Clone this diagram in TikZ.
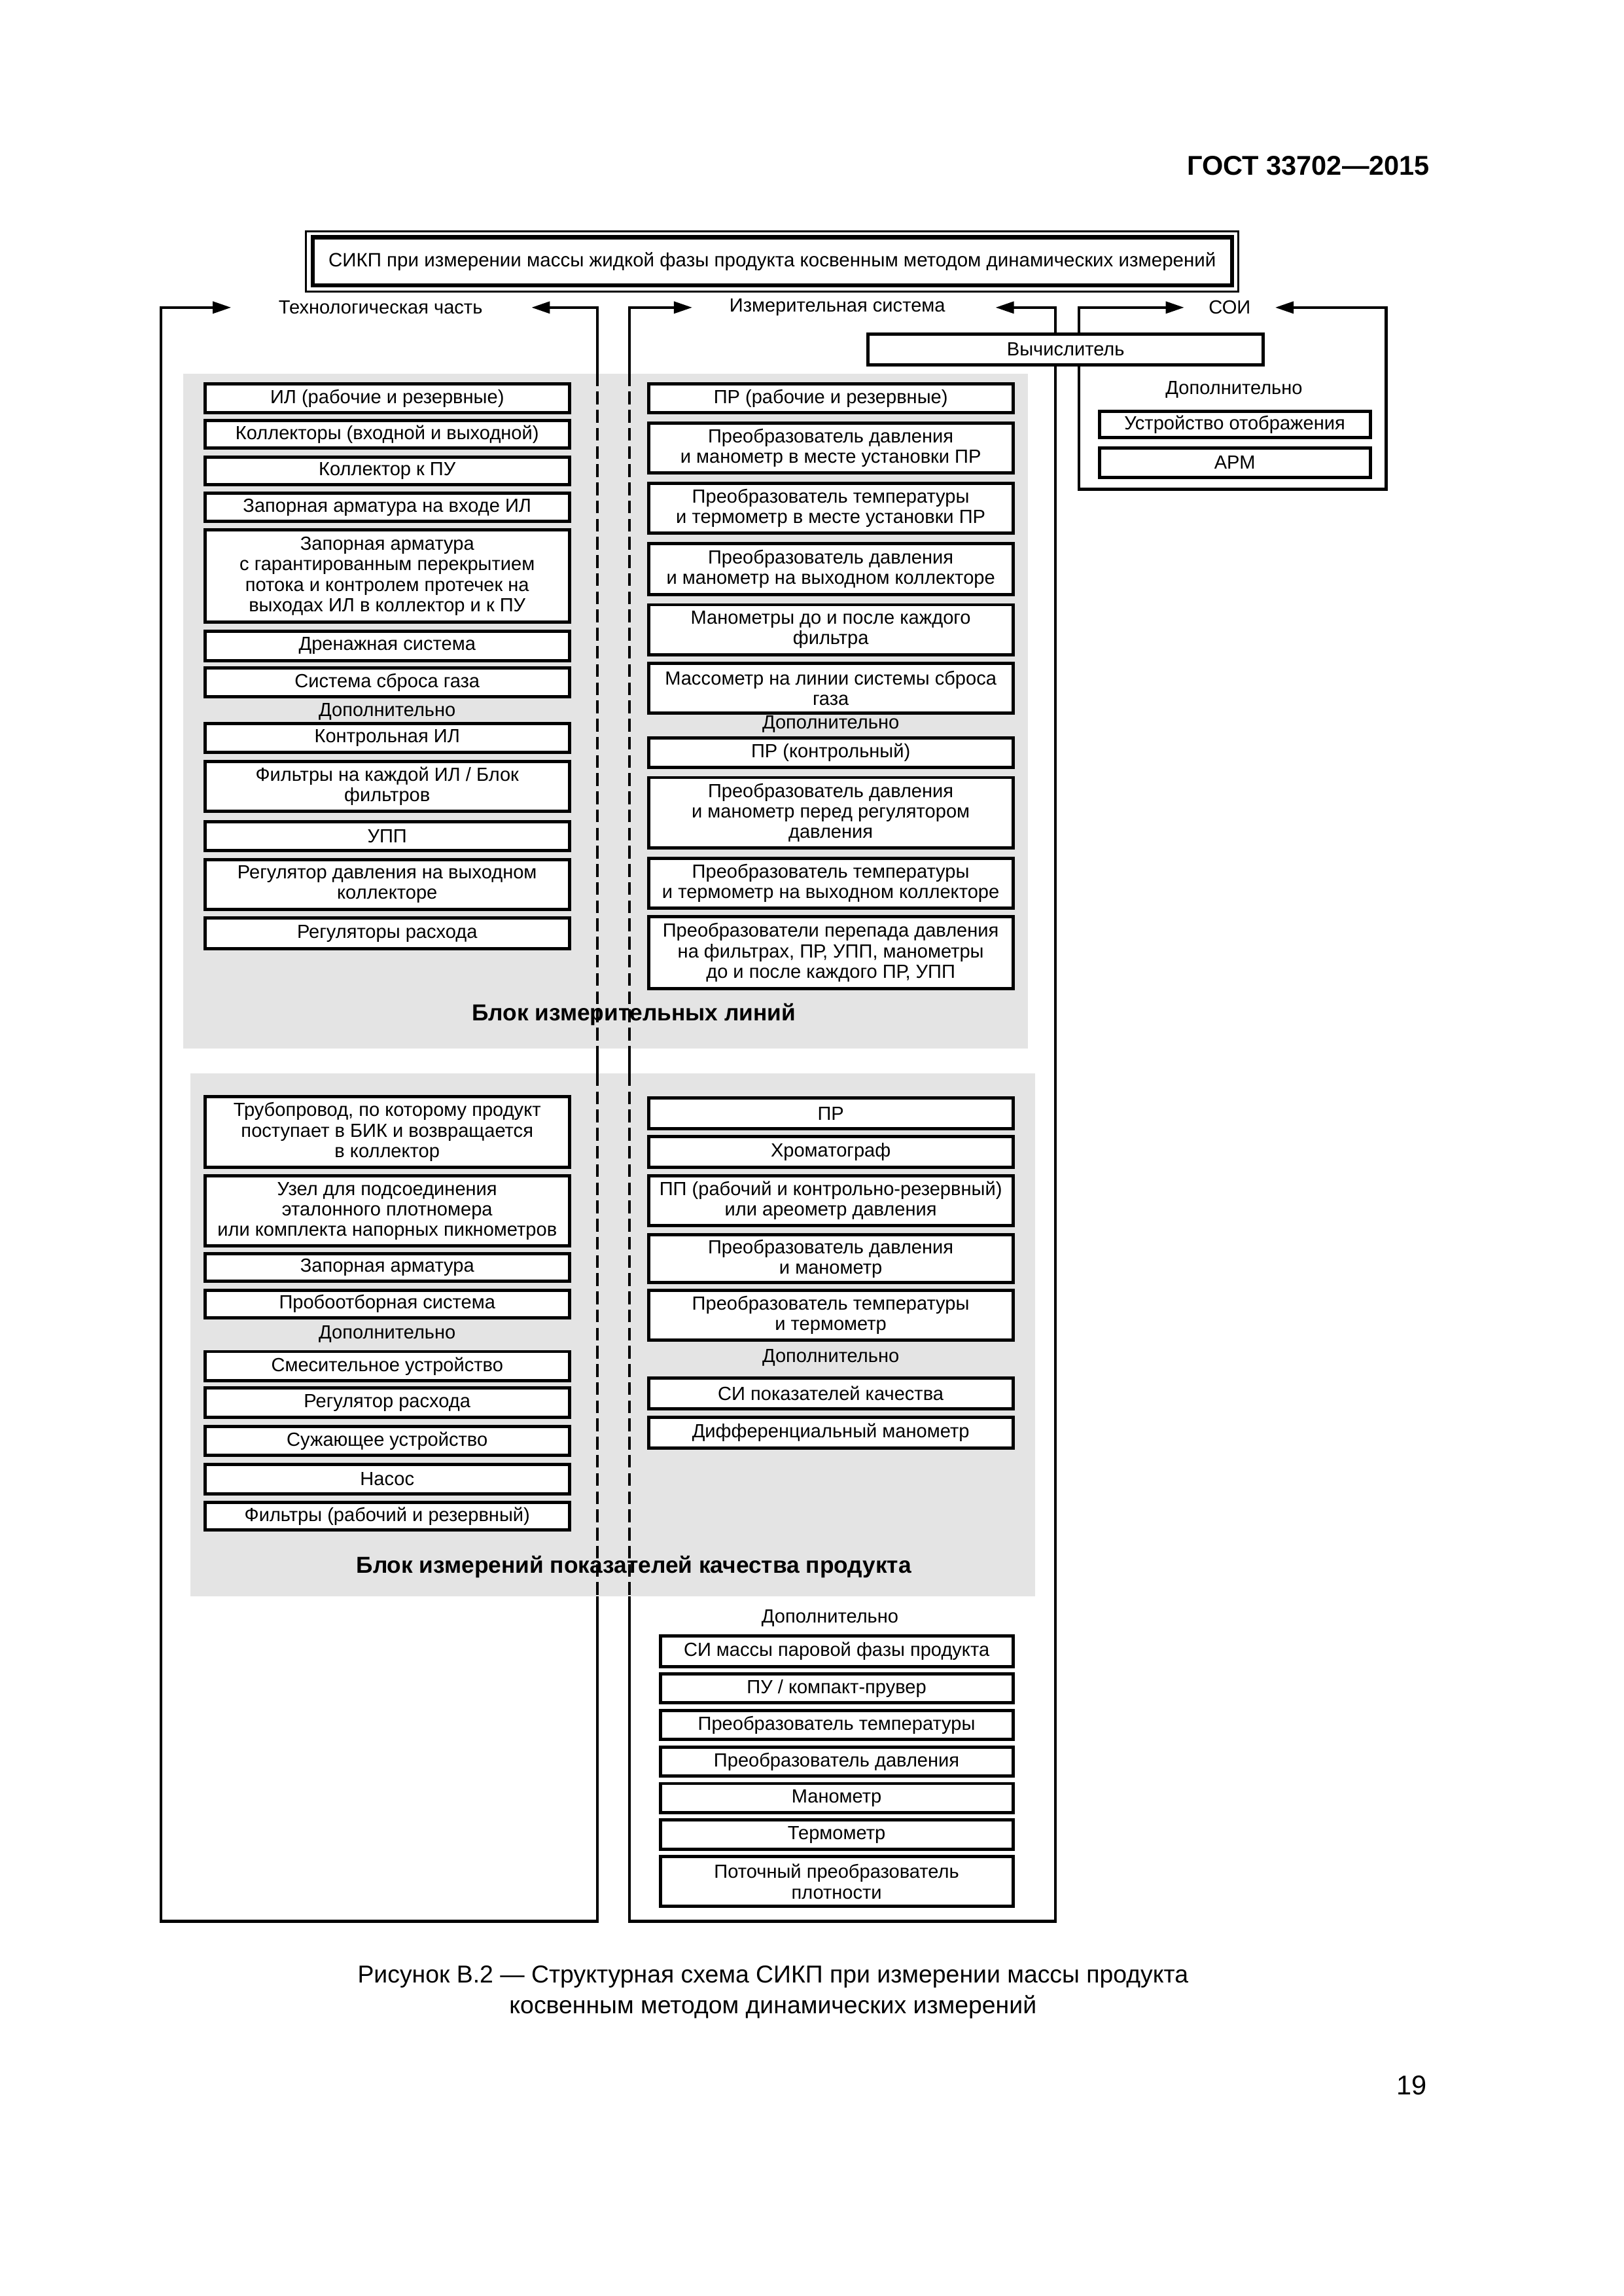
\documentclass[tikz,border=0pt]{standalone}
\usepackage{fontspec}
\setmainfont{Liberation Sans}
\usetikzlibrary{arrows.meta}
\definecolor{blockgray}{RGB}{228,228,228}
\newcommand\diabox[6]{\node[box, minimum width={(#4-#2)*0.18936mm}, minimum height={(#5-#3)*0.18936mm}] (#1) at ({(#2+#4)/2},{(#3+#5)/2}) {#6};}
\begin{document}
\begin{tikzpicture}[x=0.18936mm,y=-0.18936mm,
  box/.style={draw, line width=1.2pt, fill=white, align=center, inner sep=0pt, font=\fontsize{7}{7.5}\selectfont},
  loopline/.style={line width=1.1pt},
  dbl/.style={loopline, {Triangle[length=2.4mm,width=1.5mm]}-{Triangle[length=2.4mm,width=1.5mm]}},
  lbl/.style={font=\fontsize{7}{7.5}\selectfont, inner sep=0pt, align=center},
  blk/.style={fill=blockgray, draw=none},
  dsh/.style={line width=1.1pt, dash pattern=on 1.65mm off 0.7mm},
  blabel/.style={font=\bfseries\fontsize{8.5}{10}\selectfont, inner sep=0pt}]
\useasboundingbox (0,0) rectangle (1109,1568);

% header
\node[font=\bfseries\fontsize{10}{12}\selectfont, anchor=east, inner sep=0pt] (hdr) at (977,113) {ГОСТ 33702—2015};

% title double box
\node[draw, line width=0.8pt, minimum width={(846-209)*0.18936mm}, minimum height={(199-158)*0.18936mm}] (titleout) at (527.5,178.5) {};
\node[draw, line width=1.5pt, minimum width={(841.5-213.5)*0.18936mm}, minimum height={(195-162)*0.18936mm}, font=\fontsize{7.1}{8}\selectfont] (title) at (527.5,178.5) {СИКП при измерении массы жидкой фазы продукта косвенным методом динамических измерений};

% part labels
\node[lbl] (tech) at (260,210) {Технологическая часть};
\node[lbl] (meas) at (572,210) {Измерительная система};
\node[lbl] (soi) at (840,210) {СОИ};

% loop corners
\coordinate (techA) at (158,210);
\coordinate (techB) at (363,210);
\coordinate (lTL) at (110,210);
\coordinate (lBL) at (110,1312);
\coordinate (lBR) at (408,1312);
\coordinate (lTR) at (408,210);
\coordinate (measA) at (473,210);
\coordinate (measB) at (680,210);
\coordinate (mTL) at (430,210);
\coordinate (mBL) at (430,1312);
\coordinate (mBR) at (721,1312);
\coordinate (mTR) at (721,210);
\coordinate (soiA) at (809,210);
\coordinate (soiB) at (871,210);
\coordinate (sTL) at (737,210);
\coordinate (sBL) at (737,334);
\coordinate (sBR) at (947,334);
\coordinate (sTR) at (947,210);

\draw[dbl] (techA) -- (lTL) -- (lBL) -- (lBR) -- (lTR) -- (techB);
\draw[dbl] (measA) -- (mTL) -- (mBL) -- (mBR) -- (mTR) -- (measB);
\draw[dbl] (soiA) -- (sTL) -- (sBL) -- (sBR) -- (sTR) -- (soiB);

% gray blocks
\fill[blk] (125,255) rectangle (702,716);
\fill[blk] (130,733) rectangle (707,1090);

% dashed sections
\draw[dsh] (408,255) -- (408,716);
\draw[dsh] (430,255) -- (430,716);
\draw[dsh] (408,733) -- (408,1090);
\draw[dsh] (430,733) -- (430,1090);

% computer and SOI
\diabox{calc}{593}{228}{863}{249}{Вычислитель}
\node[lbl] (dopS) at (843,266) {Дополнительно};
\diabox{disp}{751}{281}{936}{299}{Устройство отображения}
\diabox{arm}{751}{306}{936}{326}{АРМ}

% block 1 left
\diabox{L1}{140}{262}{389}{282}{ИЛ (рабочие и резервные)}
\diabox{L2}{140}{287}{389}{306}{Коллекторы (входной и выходной)}
\diabox{L3}{140}{312}{389}{331}{Коллектор к ПУ}
\diabox{L4}{140}{337}{389}{356}{Запорная арматура на входе ИЛ}
\diabox{L5}{140}{362}{389}{425}{Запорная арматура\\с гарантированным перекрытием\\потока и контролем протечек на\\выходах ИЛ в коллектор и к ПУ}
\diabox{L6}{140}{431}{389}{451}{Дренажная система}
\diabox{L7}{140}{456}{389}{476}{Система сброса газа}
\node[lbl] (dopL) at (264.5,486) {Дополнительно};
\diabox{L8}{140}{494}{389}{514}{Контрольная ИЛ}
\diabox{L9}{140}{520}{389}{554}{Фильтры на каждой ИЛ / Блок\\фильтров}
\diabox{L10}{140}{561}{389}{581}{УПП}
\diabox{L11}{140}{587}{389}{621}{Регулятор давления на выходном\\коллекторе}
\diabox{L12}{140}{627}{389}{648}{Регуляторы расхода}

% block 1 right
\diabox{R1}{443}{262}{692}{282}{ПР (рабочие и резервные)}
\diabox{R2}{443}{289}{692}{323}{Преобразователь давления\\и манометр в месте установки ПР}
\diabox{R3}{443}{330}{692}{364}{Преобразователь температуры\\и термометр в месте установки ПР}
\diabox{R4}{443}{371}{692}{406}{Преобразователь давления\\и манометр на выходном коллекторе}
\diabox{R5}{443}{413}{692}{447}{Манометры до и после каждого\\фильтра}
\diabox{R6}{443}{453}{692}{487}{Массометр на линии системы сброса\\газа}
\node[lbl] (dopR) at (567.5,494.5) {Дополнительно};
\diabox{R7}{443}{504}{692}{524}{ПР (контрольный)}
\diabox{R8}{443}{531}{692}{579}{Преобразователь давления\\и манометр перед регулятором\\давления}
\diabox{R9}{443}{586}{692}{620}{Преобразователь температуры\\и термометр на выходном коллекторе}
\diabox{R10}{443}{626}{692}{675}{Преобразователи перепада давления\\на фильтрах, ПР, УПП, манометры\\до и после каждого ПР, УПП}
\node[blabel] (blk1) at (433,693) {Блок измерительных линий};

% block 2 left
\diabox{Q1}{140}{749}{389}{797}{Трубопровод, по которому продукт\\поступает в БИК и возвращается\\в коллектор}
\diabox{Q2}{140}{803}{389}{851}{Узел для подсоединения\\эталонного плотномера\\или комплекта напорных пикнометров}
\diabox{Q3}{140}{856}{389}{875}{Запорная арматура}
\diabox{Q4}{140}{881}{389}{900}{Пробоотборная система}
\node[lbl] (dopQ) at (264.5,911) {Дополнительно};
\diabox{Q5}{140}{923}{389}{943}{Смесительное устройство}
\diabox{Q6}{140}{948}{389}{968}{Регулятор расхода}
\diabox{Q7}{140}{974}{389}{994}{Сужающее устройство}
\diabox{Q8}{140}{1000}{389}{1020}{Насос}
\diabox{Q9}{140}{1026}{389}{1045}{Фильтры (рабочий и резервный)}

% block 2 right
\diabox{S1}{443}{750}{692}{771}{ПР}
\diabox{S2}{443}{776}{692}{797}{Хроматограф}
\diabox{S3}{443}{803}{692}{837}{ПП (рабочий и контрольно-резервный)\\или ареометр давления}
\diabox{S4}{443}{843}{692}{876}{Преобразователь давления\\и манометр}
\diabox{S5}{443}{881}{692}{915}{Преобразователь температуры\\и термометр}
\node[lbl] (dopS2) at (567.5,927) {Дополнительно};
\diabox{S6}{443}{941}{692}{962}{СИ показателей качества}
\diabox{S7}{443}{968}{692}{989}{Дифференциальный манометр}
\node[blabel] (blk2) at (433,1070) {Блок измерений показателей качества продукта};

% bottom additional
\node[lbl] (dopD) at (567,1105) {Дополнительно};
\diabox{D1}{451}{1117}{692}{1138}{СИ массы паровой фазы продукта}
\diabox{D2}{451}{1143}{692}{1163}{ПУ / компакт-прувер}
\diabox{D3}{451}{1168}{692}{1188}{Преобразователь температуры}
\diabox{D4}{451}{1193}{692}{1213}{Преобразователь давления}
\diabox{D5}{451}{1218}{692}{1238}{Манометр}
\diabox{D6}{451}{1243}{692}{1263}{Термометр}
\diabox{D7}{451}{1268}{692}{1302}{Поточный преобразователь\\плотности}

% caption and page number
\node[font=\fontsize{9}{11.3}\selectfont, align=center, inner sep=0pt] (cap) at (528,1360.5) {Рисунок В.2 — Структурная схема СИКП при измерении массы продукта\\косвенным методом динамических измерений};
\node[font=\fontsize{10}{12}\selectfont, anchor=east, inner sep=0pt] (pg) at (975,1424) {19};
\end{tikzpicture}
\end{document}
